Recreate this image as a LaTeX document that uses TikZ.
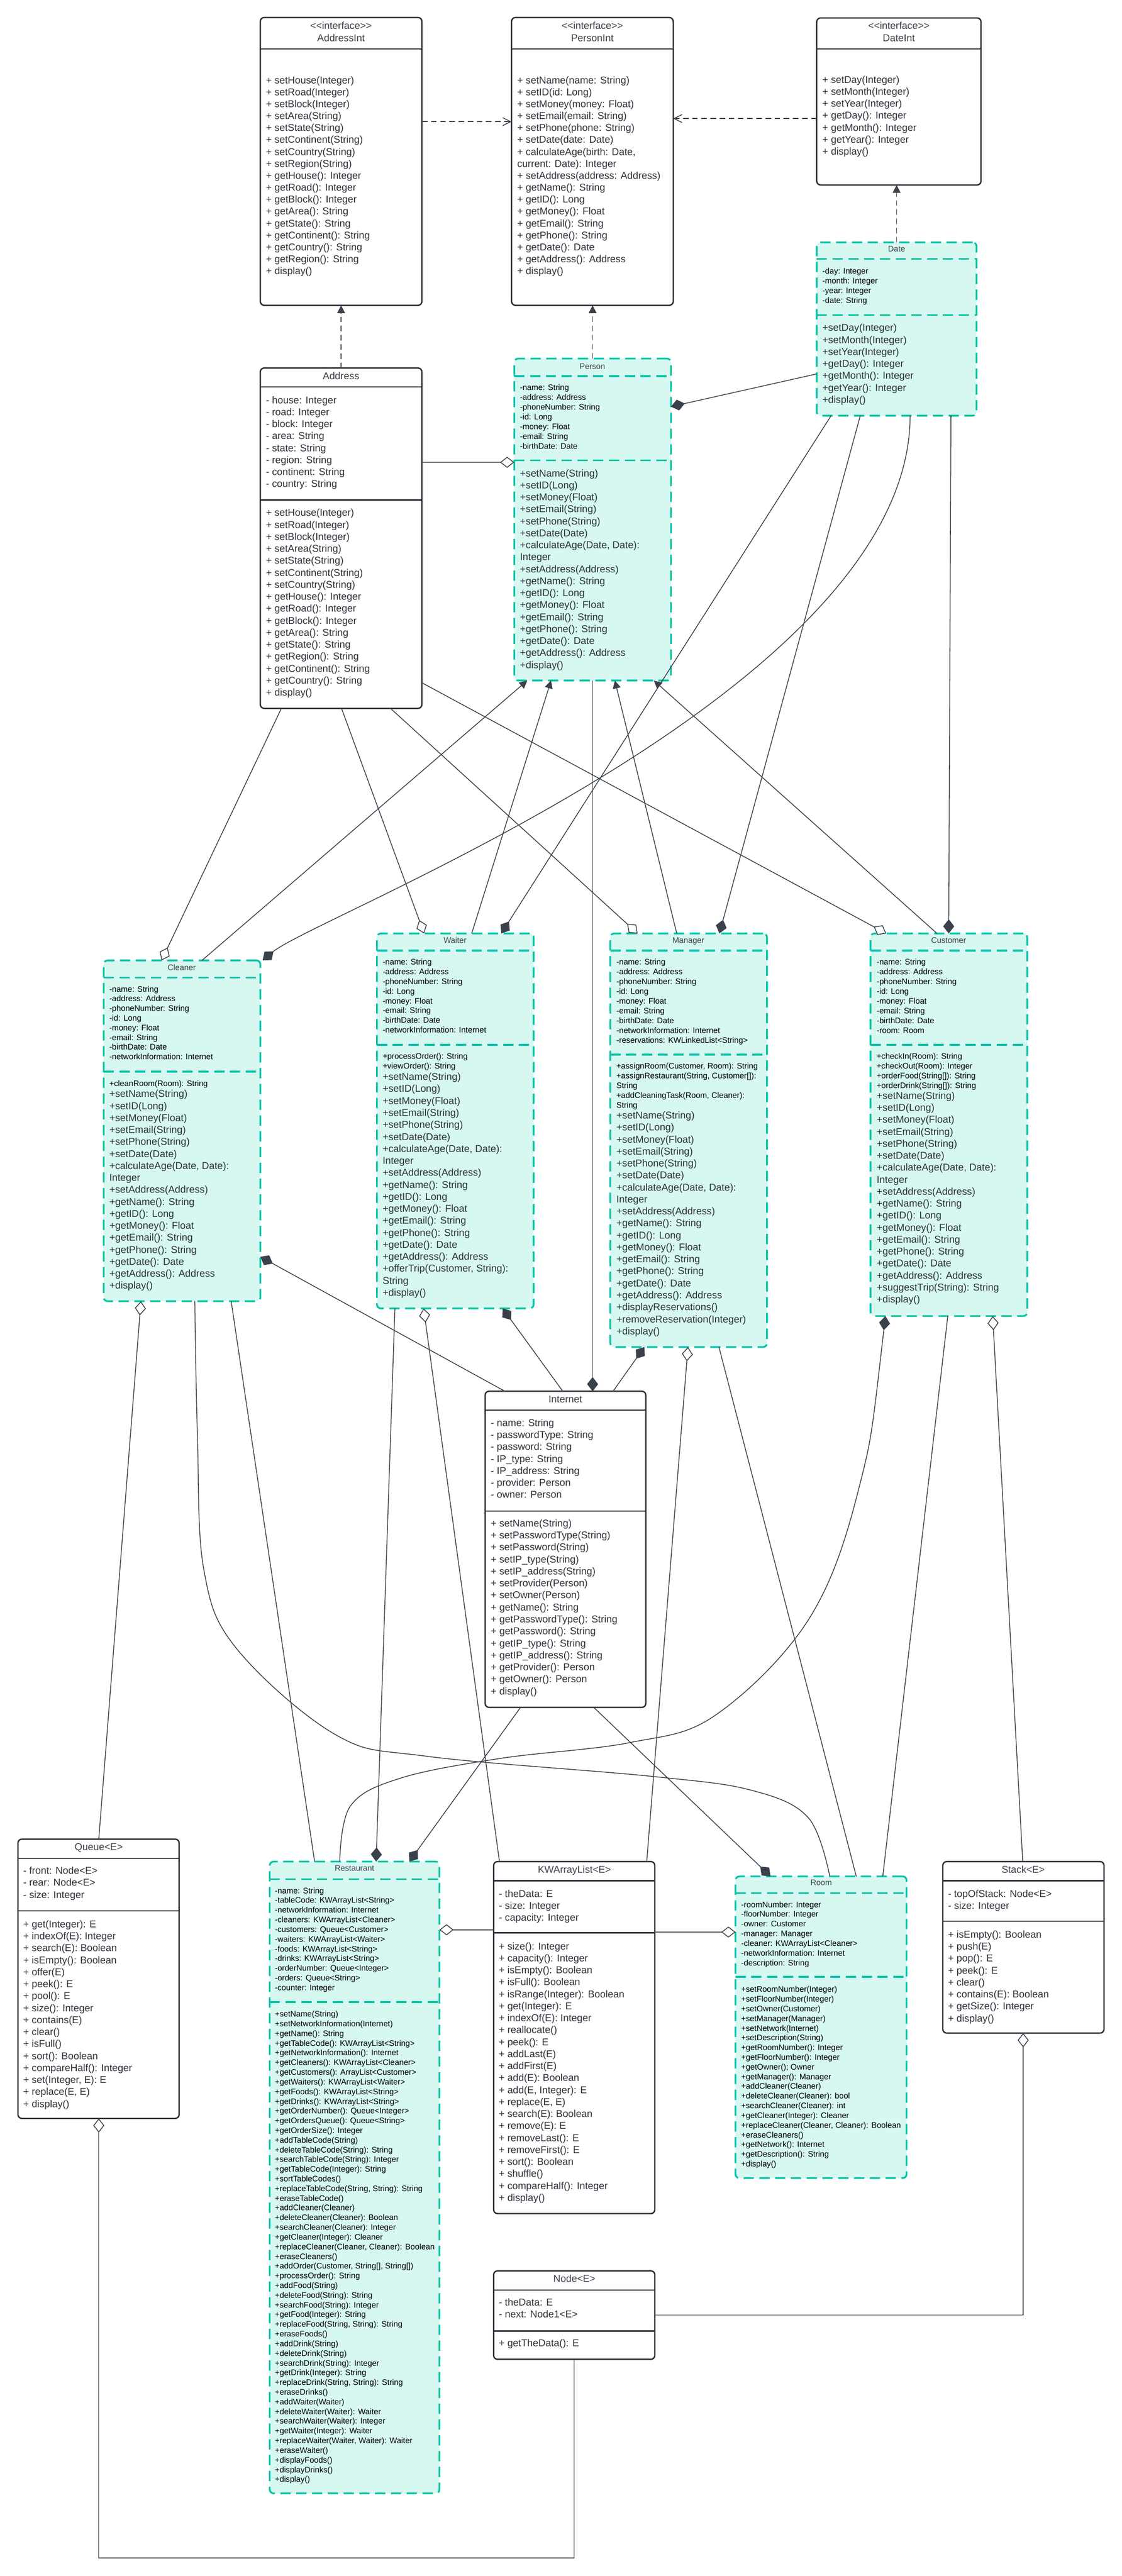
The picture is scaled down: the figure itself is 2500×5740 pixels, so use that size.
\documentclass[tikz,border=0pt]{standalone}
\usepackage{fontspec}
\setmainfont{Liberation Sans}[Ligatures=TeXOff]
\usetikzlibrary{arrows.meta}
\definecolor{linec}{RGB}{58,65,74}
\definecolor{boxc}{RGB}{40,44,52}
\definecolor{textc}{RGB}{45,50,58}
\definecolor{titc}{RGB}{60,65,74}
\definecolor{tealc}{RGB}{0,196,167}
\definecolor{mint}{RGB}{214,248,241}
\tikzset{
 pbox/.style={draw=boxc, line width=0.85pt, rounded corners=2.5pt, fill=white, anchor=north west, inner sep=0pt, outer sep=0pt},
 tbox/.style={draw=tealc, line width=1.1pt, dash pattern=on 6.5pt off 3.5pt, rounded corners=2.5pt, fill=mint, anchor=north west, inner sep=0pt, outer sep=0pt},
 psep/.style={draw=boxc, line width=0.85pt},
 tsep/.style={draw=tealc, line width=1.1pt, dash pattern=on 6.5pt off 3.5pt},
 ntxt/.style={inner sep=0pt, anchor=base west, text=textc, font=\fontsize{6.3}{7.6}\selectfont},
 stxt/.style={inner sep=0pt, anchor=base west, text=black, font=\fontsize{5.1}{6.15}\selectfont},
 ntitle/.style={inner sep=0pt, anchor=base, text=titc, font=\fontsize{6.3}{7.6}\selectfont},
 stitle/.style={inner sep=0pt, anchor=base, text=titc, font=\fontsize{5.1}{6.15}\selectfont},
 conn/.style={draw=linec, line width=0.5pt},
 dconn/.style={draw=linec, line width=0.5pt, dash pattern=on 3.5pt off 2.3pt},
 fdia/.tip={Diamond[length=9pt,width=7pt]},
 hdia/.tip={Diamond[fill=white,length=9pt,width=7pt]},
 gtri/.tip={Triangle[length=5pt,width=5pt]},
 obarb/.tip={Straight Barb[length=5pt,width=5pt]}
}
\newcommand{\umltext}[6]{\foreach \ltxt [count=\i from 0] in {#6}{\node[#5] (#1-\i) at (#2,{#3+\i*#4}) {\ltxt};}}
\newcommand{\hsep}[3]{\draw[#1] (#2.west |- 0,#3) -- (#2.east |- 0,#3);}
\newcommand{\ifc}{<\kern0pt<interface>\kern0pt>}
\begin{document}
\begin{tikzpicture}[x=0.01cm,y=-0.01cm]
\useasboundingbox (0,0) rectangle (2500,5740);
\fill[white] (0,0) rectangle (2500,5740);

% ---------- boxes ----------
\node[pbox, minimum width=3.6cm, minimum height=6.41cm] (addrint) at (580,39) {};
\node[pbox, minimum width=3.6cm, minimum height=6.41cm] (persint) at (1140,39) {};
\node[pbox, minimum width=3.66cm, minimum height=3.72cm] (dateint) at (1820,40) {};
\node[tbox, minimum width=3.56cm, minimum height=3.86cm] (date) at (1820,540) {};
\node[pbox, minimum width=3.6cm, minimum height=7.58cm] (addr) at (580,820) {};
\node[tbox, minimum width=3.49cm, minimum height=7.17cm] (person) at (1146,799) {};
\node[tbox, minimum width=3.49cm, minimum height=7.59cm] (cleaner) at (231,2140) {};
\node[tbox, minimum width=3.49cm, minimum height=8.35cm] (waiter) at (840,2080) {};
\node[tbox, minimum width=3.49cm, minimum height=9.21cm] (manager) at (1360,2080) {};
\node[tbox, minimum width=3.49cm, minimum height=8.52cm] (customer) at (1940,2080) {};
\node[pbox, minimum width=3.58cm, minimum height=7.04cm] (internet) at (1081,3100) {};
\node[pbox, minimum width=3.59cm, minimum height=6.22cm] (queue) at (40,4098) {};
\node[tbox, minimum width=3.78cm, minimum height=14.07cm] (restaurant) at (601,4148) {};
\node[pbox, minimum width=3.59cm, minimum height=7.84cm] (kwal) at (1100,4148) {};
\node[tbox, minimum width=3.81cm, minimum height=6.72cm] (room) at (1639,4181) {};
\node[pbox, minimum width=3.59cm, minimum height=3.82cm] (stack) at (2101,4148) {};
\node[pbox, minimum width=3.59cm, minimum height=1.97cm] (nodec) at (1100,5060) {};

% ---------- compartment lines ----------
\hsep{psep}{addrint}{109}
\hsep{psep}{persint}{109}
\hsep{psep}{dateint}{109}
\hsep{tsep}{date}{577}\hsep{tsep}{date}{702}
\hsep{psep}{addr}{862}\hsep{psep}{addr}{1114}
\hsep{tsep}{person}{838}\hsep{tsep}{person}{1026}
\hsep{tsep}{cleaner}{2178}\hsep{tsep}{cleaner}{2388}
\hsep{tsep}{waiter}{2118}\hsep{tsep}{waiter}{2328}
\hsep{tsep}{manager}{2118}\hsep{tsep}{manager}{2350}
\hsep{tsep}{customer}{2118}\hsep{tsep}{customer}{2328}
\hsep{psep}{internet}{3142}\hsep{psep}{internet}{3367}
\hsep{psep}{queue}{4141}\hsep{psep}{queue}{4258}
\hsep{tsep}{restaurant}{4187}\hsep{tsep}{restaurant}{4461}
\hsep{psep}{kwal}{4191}\hsep{psep}{kwal}{4307}
\hsep{tsep}{room}{4218}\hsep{tsep}{room}{4405}
\hsep{psep}{stack}{4191}\hsep{psep}{stack}{4281}
\hsep{psep}{nodec}{5103}\hsep{psep}{nodec}{5194}

% ---------- titles ----------
\node[ntitle] (addrint-s) at (760,65) {\ifc};
\node[ntitle] (addrint-n) at (760,92) {AddressInt};
\node[ntitle] (persint-s) at (1320,65) {\ifc};
\node[ntitle] (persint-n) at (1320,92) {PersonInt};
\node[ntitle] (dateint-s) at (2003,65) {\ifc};
\node[ntitle] (dateint-n) at (2003,92) {DateInt};
\node[stitle] (date-n) at (1998,561) {Date};
\node[ntitle] (addr-n) at (760,845) {Address};
\node[stitle] (person-n) at (1320,822) {Person};
\node[stitle] (cleaner-n) at (405,2162) {Cleaner};
\node[stitle] (waiter-n) at (1014,2101) {Waiter};
\node[stitle] (manager-n) at (1534,2101) {Manager};
\node[stitle] (customer-n) at (2114,2101) {Customer};
\node[ntitle] (internet-n) at (1260,3125) {Internet};
\node[ntitle] (queue-n) at (220,4123) {Queue<E>};
\node[stitle] (restaurant-n) at (790,4169) {Restaurant};
\node[ntitle] (kwal-n) at (1280,4174) {KWArrayList<E>};
\node[stitle] (room-n) at (1830,4201) {Room};
\node[ntitle] (stack-n) at (2280,4174) {Stack<E>};
\node[ntitle] (nodec-n) at (1280,5085) {Node<E>};

% ---------- members ----------
\umltext{addrint-m}{592}{186}{26.6}{ntxt}{+ setHouse(Integer), + setRoad(Integer), + setBlock(Integer), + setArea(String), + setState(String), + setContinent(String), + setCountry(String), + setRegion(String), + getHouse(): Integer, + getRoad(): Integer, + getBlock(): Integer, + getArea(): String, + getState(): String, + getContinent(): String, + getCountry(): String, + getRegion(): String, + display()}
\umltext{persint-m}{1152}{186}{26.6}{ntxt}{+ setName(name: String), + setID(id: Long), + setMoney(money: Float), + setEmail(email: String), + setPhone(phone: String), + setDate(date: Date), {+ calculateAge(birth: Date,}, current: Date): Integer, + setAddress(address: Address), + getName(): String, + getID(): Long, + getMoney(): Float, + getEmail(): String, + getPhone(): String, + getDate(): Date, + getAddress(): Address, + display()}
\umltext{dateint-m}{1832}{185}{26.7}{ntxt}{+ setDay(Integer), + setMonth(Integer), + setYear(Integer), + getDay(): Integer, + getMonth(): Integer, + getYear(): Integer, + display()}
\umltext{date-a}{1832}{610}{21.7}{stxt}{-day: Integer, -month: Integer, -year: Integer, -date: String}
\umltext{date-m}{1832}{738}{26.7}{ntxt}{+setDay(Integer), +setMonth(Integer), +setYear(Integer), +getDay(): Integer, +getMonth(): Integer, +getYear(): Integer, +display()}
\umltext{addr-a}{592}{899}{26.7}{ntxt}{- house: Integer, - road: Integer, - block: Integer, - area: String, - state: String, - region: String, - continent: String, - country: String}
\umltext{addr-m}{592}{1150}{26.7}{ntxt}{+ setHouse(Integer), + setRoad(Integer), + setBlock(Integer), + setArea(String), + setState(String), + setContinent(String), + setCountry(String), + getHouse(): Integer, + getRoad(): Integer, + getBlock(): Integer, + getArea(): String, + getState(): String, + getRegion(): String, + getContinent(): String, + getCountry(): String, + display()}
\umltext{person-a}{1158}{870}{21.7}{stxt}{-name: String, -address: Address, -phoneNumber: String, -id: Long, -money: Float, -email: String, -birthDate: Date}
\umltext{person-m}{1158}{1062}{26.7}{ntxt}{+setName(String), +setID(Long), +setMoney(Float), +setEmail(String), +setPhone(String), +setDate(Date), {+calculateAge(Date, Date):}, Integer, +setAddress(Address), +getName(): String, +getID(): Long, +getMoney(): Float, +getEmail(): String, +getPhone(): String, +getDate(): Date, +getAddress(): Address, +display()}
\umltext{cleaner-a}{243}{2210}{21.6}{stxt}{-name: String, -address: Address, -phoneNumber: String, -id: Long, -money: Float, -email: String, -birthDate: Date, -networkInformation: Internet}
\umltext{cleaner-s}{243}{2420}{21.6}{stxt}{+cleanRoom(Room): String}
\umltext{cleaner-m}{243}{2445}{26.7}{ntxt}{+setName(String), +setID(Long), +setMoney(Float), +setEmail(String), +setPhone(String), +setDate(Date), {+calculateAge(Date, Date):}, Integer, +setAddress(Address), +getName(): String, +getID(): Long, +getMoney(): Float, +getEmail(): String, +getPhone(): String, +getDate(): Date, +getAddress(): Address, +display()}
\umltext{waiter-a}{852}{2150}{21.6}{stxt}{-name: String, -address: Address, -phoneNumber: String, -id: Long, -money: Float, -email: String, -birthDate: Date, -networkInformation: Internet}
\umltext{waiter-s}{852}{2360}{21.6}{stxt}{+processOrder(): String, +viewOrder(): String}
\umltext{waiter-m}{852}{2407}{26.7}{ntxt}{+setName(String), +setID(Long), +setMoney(Float), +setEmail(String), +setPhone(String), +setDate(Date), {+calculateAge(Date, Date):}, Integer, +setAddress(Address), +getName(): String, +getID(): Long, +getMoney(): Float, +getEmail(): String, +getPhone(): String, +getDate(): Date, +getAddress(): Address, {+offerTrip(Customer, String):}, String, +display()}
\umltext{manager-a}{1373}{2150}{21.7}{stxt}{-name: String, -address: Address, -phoneNumber: String, -id: Long, -money: Float, -email: String, -birthDate: Date, -networkInformation: Internet, -reservations: KWLinkedList<String>}
\umltext{manager-s}{1373}{2382}{21.6}{stxt}{{+assignRoom(Customer, Room): String}, {+assignRestaurant(String, Customer[]):}, String, {+addCleaningTask(Room, Cleaner):}, String}
\umltext{manager-m}{1373}{2493}{26.7}{ntxt}{+setName(String), +setID(Long), +setMoney(Float), +setEmail(String), +setPhone(String), +setDate(Date), {+calculateAge(Date, Date):}, Integer, +setAddress(Address), +getName(): String, +getID(): Long, +getMoney(): Float, +getEmail(): String, +getPhone(): String, +getDate(): Date, +getAddress(): Address, +displayReservations(), +removeReservation(Integer), +display()}
\umltext{customer-a}{1953}{2150}{21.7}{stxt}{-name: String, -address: Address, -phoneNumber: String, -id: Long, -money: Float, -email: String, -birthDate: Date, -room: Room}
\umltext{customer-s}{1953}{2360}{21.6}{stxt}{+checkIn(Room): String, +checkOut(Room): Integer, {+orderFood(String[]): String}, {+orderDrink(String[]): String}}
\umltext{customer-m}{1953}{2449}{26.7}{ntxt}{+setName(String), +setID(Long), +setMoney(Float), +setEmail(String), +setPhone(String), +setDate(Date), {+calculateAge(Date, Date):}, Integer, +setAddress(Address), +getName(): String, +getID(): Long, +getMoney(): Float, +getEmail(): String, +getPhone(): String, +getDate(): Date, +getAddress(): Address, +suggestTrip(String): String, +display()}
\umltext{internet-a}{1093}{3178}{26.7}{ntxt}{- name: String, - passwordType: String, - password: String, - IP\_type: String, - IP\_address: String, - provider: Person, - owner: Person}
\umltext{internet-m}{1093}{3402}{26.7}{ntxt}{+ setName(String), + setPasswordType(String), + setPassword(String), + setIP\_type(String), + setIP\_address(String), + setProvider(Person), + setOwner(Person), + getName(): String, + getPasswordType(): String, + getPassword(): String, + getIP\_type(): String, + getIP\_address(): String, + getProvider(): Person, + getOwner(): Person, + display()}
\umltext{queue-a}{51}{4176}{26.7}{ntxt}{- front: Node<E>, - rear: Node<E>, - size: Integer}
\umltext{queue-m}{51}{4295}{26.7}{ntxt}{+ get(Integer): E, + indexOf(E): Integer, + search(E): Boolean, + isEmpty(): Boolean, + offer(E), + peek(): E, + pool(): E, + size(): Integer, + contains(E), + clear(), + isFull(), + sort(): Boolean, + compareHalf(): Integer, {+ set(Integer, E): E}, {+ replace(E, E)}, + display()}
\umltext{restaurant-a}{612}{4219}{21.6}{stxt}{-name: String, -tableCode: KWArrayList<String>, -networkInformation: Internet, -cleaners: KWArrayList<Cleaner>, -customers: Queue<Customer>, -waiters: KWArrayList<Waiter>, -foods: KWArrayList<String>, -drinks: KWArrayList<String>, -orderNumber: Queue<Integer>, -orders: Queue<String>, -counter: Integer}
\umltext{restaurant-m}{612}{4494}{21.6}{stxt}{+setName(String), +setNetworkInformation(Internet), +getName(): String, +getTableCode(): KWArrayList<String>, +getNetworkInformation(): Internet, +getCleaners(): KWArrayList<Cleaner>, +getCustomers(): ArrayList<Customer>, +getWaiters(): KWArrayList<Waiter>, +getFoods(): KWArrayList<String>, +getDrinks(): KWArrayList<String>, +getOrderNumber(): Queue<Integer>, +getOrdersQueue(): Queue<String>, +getOrderSize(): Integer, +addTableCode(String), +deleteTableCode(String): String, +searchTableCode(String): Integer, +getTableCode(Integer): String, +sortTableCodes(), {+replaceTableCode(String, String): String}, +eraseTableCode(), +addCleaner(Cleaner), +deleteCleaner(Cleaner): Boolean, +searchCleaner(Cleaner): Integer, +getCleaner(Integer): Cleaner, {+replaceCleaner(Cleaner, Cleaner): Boolean}, +eraseCleaners(), {+addOrder(Customer, String[], String[])}, +processOrder(): String, +addFood(String), +deleteFood(String): String, +searchFood(String): Integer, +getFood(Integer): String, {+replaceFood(String, String): String}, +eraseFoods(), +addDrink(String), +deleteDrink(String), +searchDrink(String): Integer, +getDrink(Integer): String, {+replaceDrink(String, String): String}, +eraseDrinks(), +addWaiter(Waiter), +deleteWaiter(Waiter): Waiter, +searchWaiter(Waiter): Integer, +getWaiter(Integer): Waiter, {+replaceWaiter(Waiter, Waiter): Waiter}, +eraseWaiter(), +displayFoods(), +displayDrinks(), +display()}
\umltext{kwal-a}{1111}{4227}{26.7}{ntxt}{- theData: E, - size: Integer, - capacity: Integer}
\umltext{kwal-m}{1111}{4344}{26.7}{ntxt}{+ size(): Integer, + capacity(): Integer, + isEmpty(): Boolean, + isFull(): Boolean, + isRange(Integer): Boolean, + get(Integer): E, + indexOf(E): Integer, + reallocate(), + peek(): E, + addLast(E), + addFirst(E), + add(E): Boolean, {+ add(E, Integer): E}, {+ replace(E, E)}, + search(E): Boolean, + remove(E): E, + removeLast(): E, + removeFirst(): E, + sort(): Boolean, + shuffle(), + compareHalf(): Integer, + display()}
\umltext{room-a}{1651}{4250}{21.6}{stxt}{-roomNumber: Integer, -floorNumber: Integer, -owner: Customer, -manager: Manager, -cleaner: KWArrayList<Cleaner>, -networkInformation: Internet, -description: String}
\umltext{room-m}{1651}{4439}{21.6}{stxt}{+setRoomNumber(Integer), +setFloorNumber(Integer), +setOwner(Customer), +setManager(Manager), +setNetwork(Internet), +setDescription(String), +getRoomNumber(): Integer, +getFloorNumber(): Integer, +getOwner(); Owner, +getManager(): Manager, +addCleaner(Cleaner), +deleteCleaner(Cleaner): bool, +searchCleaner(Cleaner): int, +getCleaner(Integer): Cleaner, {+replaceCleaner(Cleaner, Cleaner): Boolean}, +eraseCleaners(), +getNetwork(): Internet, +getDescription(): String, +display()}
\umltext{stack-a}{2112}{4227}{26.7}{ntxt}{- topOfStack: Node<E>, - size: Integer}
\umltext{stack-m}{2112}{4318}{26.7}{ntxt}{+ isEmpty(): Boolean, + push(E), + pop(): E, + peek(): E, + clear(), + contains(E): Boolean, + getSize(): Integer, + display()}
\umltext{nodec-a}{1111}{5138}{26.7}{ntxt}{- theData: E, - next: Node1<E>}
\umltext{nodec-m}{1111}{5229}{26.7}{ntxt}{+ getTheData(): E}

% ---------- connectors: top ----------
\draw[dconn, -obarb] ([yshift=-2.32cm]addrint.north east) -- ([yshift=-2.32cm]persint.north west);
\draw[dconn, -obarb] ([yshift=-2.24cm]dateint.north west) -- ([yshift=-2.25cm]persint.north east);
\draw[dconn, -gtri] (addr.north) -- (addrint.south);
\draw[dconn, -gtri] (person.north) -- (person.north |- persint.south);
\draw[dconn, -gtri] (date.north) -- (date.north |- dateint.south);
\draw[conn, -hdia] ([yshift=-2.10cm]addr.north east) -- ([yshift=-2.31cm]person.north west);
\draw[conn, -fdia] ([yshift=-2.93cm]date.north west) -- ([yshift=-1.07cm]person.north east);

% ---------- connectors: middle ----------
\draw[conn, -hdia] ([xshift=0.47cm]addr.south west) -- ([xshift=1.29cm]cleaner.north west);
\draw[conn, -hdia] ([xshift=1.81cm]addr.south west) -- ([xshift=1.05cm]waiter.north west);
\draw[conn, -hdia] ([xshift=2.90cm]addr.south west) -- ([xshift=0.61cm]manager.north west);
\draw[conn, -hdia] ([yshift=0.57cm]addr.south east) -- ([xshift=0.35cm]customer.north west);
\draw[conn, -gtri] ([xshift=2.19cm]cleaner.north west) -- ([xshift=0.29cm]person.south west);
\draw[conn, -gtri] ([xshift=2.11cm]waiter.north west) -- ([xshift=0.82cm]person.south west);
\draw[conn, -gtri] ([xshift=1.48cm]manager.north west) -- ([xshift=2.24cm]person.south west);
\draw[conn, -gtri] ([xshift=1.48cm]customer.north west) -- ([xshift=3.11cm]person.south west);
\draw[conn, -fdia] ([xshift=0.32cm]date.south west) -- ([xshift=2.77cm]waiter.north west);
\draw[conn, -fdia] ([xshift=0.97cm]date.south west) -- ([xshift=2.43cm]manager.north west);
\draw[conn, -fdia] ([xshift=2.99cm]date.south west) -- ([xshift=1.74cm]customer.north west);
\draw[conn, -fdia] ([xshift=2.08cm]date.south west) .. controls +(0,612) and +(120,-100) .. ([xshift=0.05cm]cleaner.north east);
\draw[conn, -fdia] (person.south) -- (person.south |- internet.north);

% ---------- connectors: lower ----------
\draw[conn, -fdia] ([xshift=0.44cm]internet.north west) -- ([yshift=-6.60cm]cleaner.north east);
\draw[conn, -fdia] ([xshift=1.73cm]internet.north west) -- ([xshift=2.80cm]waiter.south west);
\draw[conn, -fdia] ([xshift=2.85cm]internet.north west) -- ([xshift=0.76cm]manager.south west);
\draw[conn, -hdia] ([xshift=1.80cm]queue.north west) -- ([xshift=0.83cm]cleaner.south west);
\draw[conn] plot[smooth, tension=0.6] coordinates {([xshift=2.03cm]cleaner.south west) (440,3200) (454,3496) (526,3672) (749,3866) (956,3914) (1451,3958) (1674,3989) (1801,4050) ([xshift=2.10cm]room.north west)};
\draw[conn] ([xshift=2.84cm]cleaner.south west) -- ([xshift=1.00cm]restaurant.north west);
\draw[conn, -fdia] ([xshift=0.40cm]waiter.south west) -- ([xshift=2.37cm]restaurant.north west);
\draw[conn, -hdia] ([xshift=0.13cm]kwal.north west) -- ([xshift=1.04cm]waiter.south west);
\draw[conn, -hdia] ([xshift=3.41cm]kwal.north west) -- ([xshift=1.73cm]manager.south west);
\draw[conn] ([xshift=2.42cm]manager.south west) -- ([xshift=2.69cm]room.north west);
\draw[conn, fdia-] plot[smooth, tension=0.6] coordinates {([xshift=0.33cm]customer.south west) (1913,3320) (1801,3610) (1594,3822) (1403,3883) (1116,3918) (893,3962) (781,4024) ([xshift=1.56cm]restaurant.north west)};
\draw[conn] ([xshift=1.72cm]customer.south west) -- ([xshift=3.28cm]room.north west);
\draw[conn, -hdia] ([xshift=1.78cm]stack.north west) -- ([xshift=2.72cm]customer.south west);
\draw[conn, -fdia] ([xshift=0.79cm]internet.south west) -- ([xshift=3.11cm]restaurant.north west);
\draw[conn, -fdia] ([xshift=2.42cm]internet.south west) -- ([xshift=0.78cm]room.north west);
\draw[conn, -hdia] ([yshift=-1.52cm]kwal.north west) -- ([yshift=-1.52cm]restaurant.north east);
\draw[conn, -hdia] ([yshift=-1.57cm]kwal.north east) -- ([yshift=-1.24cm]room.north west);
\coordinate (railq) at (700,5700);
\draw[conn, hdia-] ([xshift=1.80cm]queue.south west) |- (railq) -| (nodec.south);
\draw[conn, hdia-] ([xshift=1.79cm]stack.south west) |- (nodec.east);
\end{tikzpicture}
\end{document}
